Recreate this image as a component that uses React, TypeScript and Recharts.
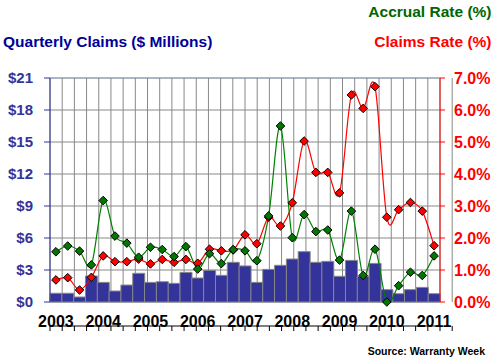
import { Bar, CartesianGrid, ComposedChart, Line, XAxis, YAxis } from "recharts";

const FONT = '"Liberation Sans", Arial, sans-serif';

const quarters = [
    "2003 Q2", "2003 Q3", "2003 Q4",
    "2004 Q1", "2004 Q2", "2004 Q3", "2004 Q4",
    "2005 Q1", "2005 Q2", "2005 Q3", "2005 Q4",
    "2006 Q1", "2006 Q2", "2006 Q3", "2006 Q4",
    "2007 Q1", "2007 Q2", "2007 Q3", "2007 Q4",
    "2008 Q1", "2008 Q2", "2008 Q3", "2008 Q4",
    "2009 Q1", "2009 Q2", "2009 Q3", "2009 Q4",
    "2010 Q1", "2010 Q2", "2010 Q3", "2010 Q4",
    "2011 Q1", "2011 Q2",
];

// quarterly claims, $ millions
const claims = [
    0.82, 0.82, 0.47, 2.44, 1.84, 1.03, 1.59, 2.69, 1.84, 1.90, 1.75,
    2.78, 2.25, 2.97, 2.50, 3.72, 3.38, 1.84, 3.06, 3.44, 4.03, 4.72,
    3.72, 3.81, 2.41, 3.90, 2.41, 3.62, 1.16, 0.78, 1.16, 1.37, 0.78,
];

// claims rate, %
const claimsRate = [
    0.69, 0.76, 0.375, 0.77, 1.44, 1.26, 1.26, 1.34, 1.19, 1.33, 1.24,
    1.33, 1.21, 1.65, 1.60, 1.625, 2.10, 1.82, 2.65, 2.375, 3.10, 5.03,
    4.05, 4.05, 3.41, 6.47, 6.05, 6.73, 2.65, 2.885, 3.11, 2.84, 1.76,
];

// accrual rate, %
const accrualRate = [
    1.57, 1.75, 1.59, 1.16, 3.17, 2.06, 1.84, 1.40, 1.71, 1.64, 1.42,
    1.73, 1.03, 1.51, 1.20, 1.64, 1.60, 1.29, 2.69, 5.50, 2.01, 2.73,
    2.20, 2.25, 1.31, 2.84, 0.83, 1.65, 0.00, 0.51, 0.93, 0.83, 1.44,
];

const dollarTicks = [0, 3, 6, 9, 12, 15, 18, 21];
const pctTicks = [0, 1, 2, 3, 4, 5, 6, 7];

const data = quarters.map((q, i) => ({
    q,
    claims: claims[i],
    claimsRate: claimsRate[i],
    accrualRate: accrualRate[i],
}));

// quarter boundaries and minor tick steps
const edges = Array.from({ length: quarters.length + 1 }, (_, i) => i);
const minorSteps = Array.from({ length: 36 }, (_, i) => i);

// Excel-like smoothed line (Catmull-Rom)
const smooth = (context: any) => {
    let pts: number[][] = [];
    return {
        areaStart() { },
        areaEnd() { },
        lineStart() { pts = []; },
        point(x: number, y: number) { pts.push([x, y]); },
        lineEnd() {
            const n = pts.length;
            if (!n) return;
            context.moveTo(pts[0][0], pts[0][1]);
            for (let i = 0; i < n - 1; i++) {
                const p0 = pts[Math.max(i - 1, 0)];
                const p1 = pts[i];
                const p2 = pts[i + 1];
                const p3 = pts[Math.min(i + 2, n - 1)];
                context.bezierCurveTo(
                    p1[0] + (p2[0] - p0[0]) / 6, p1[1] + (p2[1] - p0[1]) / 6,
                    p2[0] - (p3[0] - p1[0]) / 6, p2[1] - (p3[1] - p1[1]) / 6,
                    p2[0], p2[1]);
            }
        },
    };
};

function diamond(fill: string) {
    return (p: any) => {
        const { cx, cy, index } = p;
        if (cx == null || cy == null) return <g key={index} />;
        const r = 4.3;
        return (
            <path
                key={index}
                d={`M${cx},${cy - r}L${cx + r},${cy}L${cx},${cy + r}L${cx - r},${cy}Z`}
                fill={fill}
                stroke="#000"
                strokeWidth={1}
            />
        );
    };
}

export default function App() {
    return (
        <div style={{ position: 'absolute', left: 0, top: 0, width: 496, height: 363, background: '#fff' }}>
            <ComposedChart
                width={496}
                height={363}
                data={data}
                margin={{ top: 78, right: 0, bottom: 31, left: 0 }}
                barCategoryGap={0}
                barGap={0}
            >
                <XAxis
                    xAxisId="q"
                    type="number"
                    domain={[0, quarters.length]}
                    ticks={edges}
                    interval={0}
                    height={6}
                    tickSize={5}
                    tickFormatter={() => ""}
                    axisLine={{ stroke: '#000' }}
                    tickLine={{ stroke: '#000' }}
                />
                <XAxis
                    xAxisId="cat"
                    dataKey="q"
                    interval={3}
                    height={24}
                    tickSize={0}
                    tickMargin={14}
                    axisLine={false}
                    tickLine={false}
                    tickFormatter={(v: string) => v.slice(0, 4)}
                    tick={{ fill: '#000', fontSize: 16, fontWeight: 'bold', fontFamily: FONT }}
                />
                <YAxis
                    yAxisId="left"
                    domain={[0, 21]}
                    ticks={dollarTicks}
                    interval={0}
                    width={50}
                    tickSize={6}
                    tickMargin={11}
                    tickFormatter={(v: number) => `$${v}`}
                    axisLine={{ stroke: '#333399' }}
                    tickLine={{ stroke: '#333399' }}
                    tick={{ fill: '#333399', fontSize: 15, fontWeight: 'bold', fontFamily: FONT }}
                />
                <YAxis
                    yAxisId="lminor"
                    domain={[0, 35]}
                    ticks={minorSteps}
                    interval={0}
                    mirror
                    tickSize={4}
                    tickFormatter={() => ""}
                    axisLine={false}
                    tickLine={{ stroke: '#333399' }}
                />
                <YAxis
                    yAxisId="right"
                    orientation="right"
                    domain={[0, 7]}
                    ticks={pctTicks}
                    interval={0}
                    width={56}
                    tickSize={5}
                    tickMargin={9}
                    tickFormatter={(v: number) => `${v.toFixed(1)}%`}
                    axisLine={{ stroke: '#ff0000' }}
                    tickLine={{ stroke: '#ff0000' }}
                    tick={{ fill: '#ff0000', fontSize: 16, fontWeight: 'bold', fontFamily: FONT }}
                />
                <YAxis
                    yAxisId="rminor"
                    orientation="right"
                    domain={[0, 35]}
                    ticks={minorSteps}
                    interval={0}
                    mirror
                    tickSize={5}
                    tickFormatter={() => ""}
                    axisLine={false}
                    tickLine={{ stroke: '#ff0000' }}
                />
                <CartesianGrid xAxisId="q" yAxisId="lminor" vertical={false} stroke="#99ccff" />
                <CartesianGrid xAxisId="q" yAxisId="left" stroke="#888888" />
                <Bar
                    xAxisId="cat"
                    yAxisId="left"
                    dataKey="claims"
                    fill="#333399"
                    stroke="#888888"
                    strokeWidth={1}
                    isAnimationActive={false}
                />
                <Line
                    xAxisId="cat"
                    yAxisId="right"
                    dataKey="claimsRate"
                    type={smooth as any}
                    stroke="#ff0000"
                    strokeWidth={1.2}
                    dot={diamond('#ff0000')}
                    activeDot={false}
                    isAnimationActive={false}
                />
                <Line
                    xAxisId="cat"
                    yAxisId="right"
                    dataKey="accrualRate"
                    type={smooth as any}
                    stroke="#008000"
                    strokeWidth={1.2}
                    dot={diamond('#007700')}
                    activeDot={false}
                    isAnimationActive={false}
                />
            </ComposedChart>
            <svg width={496} height={363} style={{ position: 'absolute', left: 0, top: 0, pointerEvents: 'none' }}>
                <g fontFamily={FONT} fontWeight="bold">
                    <text x={3} y={46.5} fontSize={15.5} fill="#000099">Quarterly Claims ($ Millions)</text>
                    <text x={491.5} y={16.5} fontSize={15.5} fill="#006600" textAnchor="end">Accrual Rate (%)</text>
                    <text x={491.5} y={46.5} fontSize={15.5} fill="#ff0000" textAnchor="end">Claims Rate (%)</text>
                    <text x={485} y={354.5} fontSize={10.5} fill="#000" textAnchor="end">Source: Warranty Week</text>
                </g>
            </svg>
        </div>
    );
}
